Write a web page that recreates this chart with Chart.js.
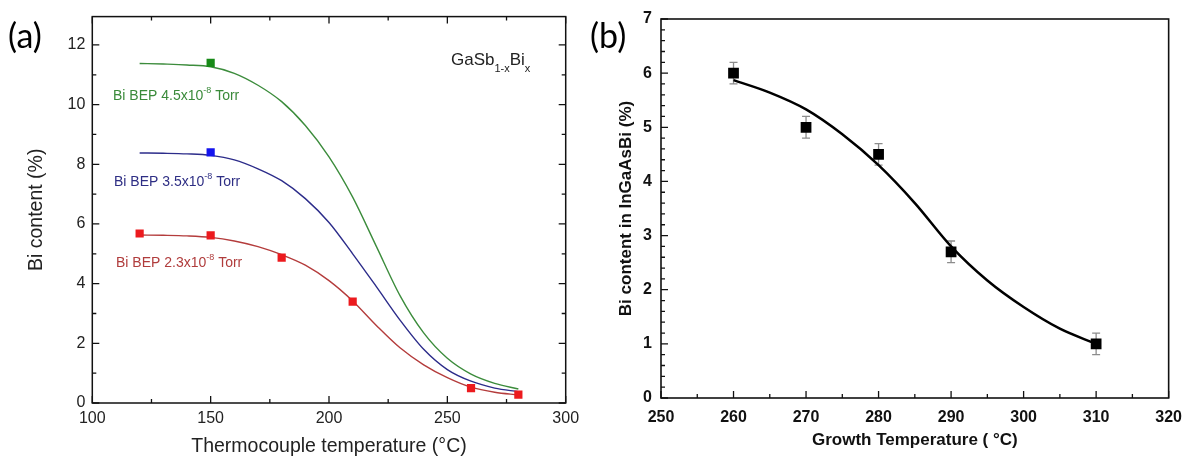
<!DOCTYPE html>
<html><head><meta charset="utf-8">
<script src="https://cdn.jsdelivr.net/npm/chart.js@4.4.1/dist/chart.umd.min.js"></script>
<style>
html,body{margin:0;padding:0;background:#fff;width:1192px;height:459px;overflow:hidden}
#ca{position:absolute;left:0;top:0}
#cb{position:absolute;left:580px;top:0}
</style></head><body>
<canvas id="ca" width="596" height="459"></canvas>
<canvas id="cb" width="612" height="459"></canvas>
<script>
// ---------- Panel (a) data ----------
const aXTickStep = 50;
const aYTickStep = 2;
const aMarkGreenT = [150];
const aMarkGreen  = [11.4];
const aMarkBlueT  = [150];
const aMarkBlue   = [8.4];
const aMarkRedT   = [120, 150, 180, 210, 260, 280];
const aMarkRed    = [5.68, 5.62, 4.87, 3.40, 0.50, 0.28];
const aFitT       = [120, 130, 140, 150, 160, 170, 180, 190, 200, 210, 220, 230, 240, 250, 260, 270, 280];
const aFitGreen   = [11.38, 11.36, 11.33, 11.27, 11.05, 10.65, 10.1, 9.3, 8.25, 6.9, 5.25, 3.6, 2.35, 1.5, 0.97, 0.66, 0.47];
const aFitBlue    = [8.38, 8.37, 8.35, 8.3, 8.15, 7.85, 7.45, 6.85, 6.05, 5.0, 3.9, 2.78, 1.8, 1.12, 0.73, 0.5, 0.38];
const aFitRed     = [5.63, 5.62, 5.6, 5.55, 5.43, 5.24, 4.97, 4.62, 4.1, 3.42, 2.6, 1.85, 1.28, 0.85, 0.53, 0.36, 0.27];
const aLabels     = ['Bi BEP 4.5x10', 'Bi BEP 3.5x10', 'Bi BEP 2.3x10'];

// ---------- Panel (b) data ----------
const bT    = [260, 270, 280, 290, 310];
const bVal  = [6.0, 5.0, 4.5, 2.7, 1.0];
const bErr  = [0.2, 0.2, 0.2, 0.2, 0.2];
const bFitT = [260, 265, 270, 275, 280, 285, 290, 295, 300, 305, 310];
const bFit  = [5.87, 5.64, 5.33, 4.87, 4.3, 3.6, 2.8, 2.17, 1.68, 1.28, 1.0];

const pts = (xs, ys) => xs.map((x, i) => ({x, y: ys[i]}));
const FONT = 'Liberation Sans';

function frameTicks(cfg) {
  return {
    id: 'frameTicks',
    afterDatasetsDraw(chart) {
      const {ctx, chartArea: a, scales: {x, y}} = chart;
      ctx.save();
      ctx.strokeStyle = cfg.color;
      ctx.lineWidth = cfg.tickLw;
      ctx.beginPath();
      const isMaj = (v, base, step) => Math.abs((v - base) / step - Math.round((v - base) / step)) < 1e-6;
      for (let k = 0; ; k++) {
        const v = x.min + k * cfg.xMinor;
        if (v > x.max + 1e-9) break;
        const px = x.getPixelForValue(v);
        const len = isMaj(v, x.min, cfg.xMajor) ? cfg.major : cfg.minor;
        if (cfg.sides.includes('bottom')) { ctx.moveTo(px, a.bottom); ctx.lineTo(px, a.bottom - len); }
        if (cfg.sides.includes('top')) { ctx.moveTo(px, a.top); ctx.lineTo(px, a.top + len); }
      }
      for (let k = 0; ; k++) {
        const v = y.min + k * cfg.yMinor;
        if (v > y.max + 1e-9) break;
        const py = y.getPixelForValue(v);
        const len = isMaj(v, 0, cfg.yMajor) ? cfg.major : cfg.minor;
        if (cfg.sides.includes('left')) { ctx.moveTo(a.left, py); ctx.lineTo(a.left + len, py); }
        if (cfg.sides.includes('right')) { ctx.moveTo(a.right, py); ctx.lineTo(a.right - len, py); }
      }
      ctx.stroke();
      ctx.lineWidth = cfg.lw;
      ctx.strokeRect(a.left, a.top, a.right - a.left, a.bottom - a.top);
      ctx.restore();
    }
  };
}

function rich(ctx, x, y, segs, color) {
  ctx.fillStyle = color;
  ctx.textBaseline = 'alphabetic';
  ctx.textAlign = 'left';
  for (const s of segs) {
    ctx.font = (s.bold ? 'bold ' : '') + s.size + 'px "' + (s.family || FONT) + '"';
    ctx.fillText(s.t, x, y + (s.dy || 0));
    x += ctx.measureText(s.t).width;
  }
}

const annotA = {
  id: 'annotA',
  afterDraw(chart) {
    const ctx = chart.ctx;
    ctx.save();
    rich(ctx, 8, 48, [{t: '(a)', size: 34, family: 'Lato'}], '#000');
    rich(ctx, 451, 65, [
      {t: 'GaSb', size: 17}, {t: '1-x', size: 11, dy: 7}, {t: 'Bi', size: 17}, {t: 'x', size: 11, dy: 7}
    ], '#222');
    rich(ctx, 113, 100, [{t: aLabels[0], size: 14}, {t: '-8', size: 9, dy: -7}, {t: ' Torr', size: 14}], '#3a8a3a');
    rich(ctx, 114, 186, [{t: aLabels[1], size: 14}, {t: '-8', size: 9, dy: -7}, {t: ' Torr', size: 14}], '#2e2e84');
    rich(ctx, 116, 267, [{t: aLabels[2], size: 14}, {t: '-8', size: 9, dy: -7}, {t: ' Torr', size: 14}], '#b03c3c');
    ctx.restore();
  }
};

new Chart(document.getElementById('ca'), {
  type: 'scatter',
  data: {
    datasets: [
      {type: 'scatter', data: pts(aMarkGreenT, aMarkGreen), pointStyle: 'rect', pointRadius: 5.8, backgroundColor: '#178a17', borderWidth: 0, order: 0},
      {type: 'scatter', data: pts(aMarkBlueT, aMarkBlue), pointStyle: 'rect', pointRadius: 5.8, backgroundColor: '#1414ee', borderWidth: 0, order: 0},
      {type: 'scatter', data: pts(aMarkRedT, aMarkRed), pointStyle: 'rect', pointRadius: 5.8, backgroundColor: '#ec1a1e', borderWidth: 0, order: 0},
      {type: 'line', data: pts(aFitT, aFitGreen), borderColor: '#3c8c3c', borderWidth: 1.4, pointRadius: 0, cubicInterpolationMode: 'monotone', fill: false, order: 5},
      {type: 'line', data: pts(aFitT, aFitBlue), borderColor: '#2c2c8a', borderWidth: 1.4, pointRadius: 0, cubicInterpolationMode: 'monotone', fill: false, order: 5},
      {type: 'line', data: pts(aFitT, aFitRed), borderColor: '#b43c3c', borderWidth: 1.4, pointRadius: 0, cubicInterpolationMode: 'monotone', fill: false, order: 5}
    ]
  },
  options: {
    responsive: false, animation: false, devicePixelRatio: 1,
    layout: {padding: {left: 0, right: 30.3, top: 14, bottom: 0}},
    plugins: {legend: {display: false}, tooltip: {enabled: false}},
    scales: {
      x: {
        type: 'linear', min: 100, max: 300,
        grid: {display: false, drawTicks: false}, border: {display: false},
        ticks: {stepSize: aXTickStep, includeBounds: false, padding: 6, color: '#222', font: {family: FONT, size: 16}, maxRotation: 0},
        title: {display: true, text: 'Thermocouple temperature (°C)', color: '#222', font: {family: FONT, size: 19.5}, padding: {top: 0, bottom: 1}},
        afterFit(s) { s.height = 56; }
      },
      y: {
        type: 'linear', min: 0, max: 12.95,
        grid: {display: false, drawTicks: false}, border: {display: false},
        ticks: {stepSize: aYTickStep, includeBounds: false, padding: 7, color: '#222', font: {family: FONT, size: 16}},
        title: {display: true, text: 'Bi content (%)', color: '#222', font: {family: FONT, size: 19.5}, padding: {top: 25, bottom: 0}},
        afterFit(s) { s.width = 92.3; }
      }
    }
  },
  plugins: [frameTicks({color: '#111', lw: 1.5, tickLw: 1.3, major: 7, minor: 4, xMinor: 25, xMajor: 50, yMinor: 1, yMajor: 2, sides: ['left', 'right', 'top', 'bottom']}), annotA]
});

const errB = {
  id: 'errB',
  beforeDatasetsDraw(chart) {
    const {ctx, scales: {x, y}} = chart;
    ctx.save();
    ctx.strokeStyle = '#8c8c8c';
    ctx.lineWidth = 1.3;
    ctx.beginPath();
    bT.forEach((t, i) => {
      const px = x.getPixelForValue(t);
      const y1 = y.getPixelForValue(bVal[i] + bErr[i]);
      const y2 = y.getPixelForValue(bVal[i] - bErr[i]);
      ctx.moveTo(px, y1); ctx.lineTo(px, y2);
      ctx.moveTo(px - 4, y1); ctx.lineTo(px + 4, y1);
      ctx.moveTo(px - 4, y2); ctx.lineTo(px + 4, y2);
    });
    ctx.stroke();
    ctx.restore();
  }
};
const annotB = {
  id: 'annotB',
  afterDraw(chart) {
    const ctx = chart.ctx;
    ctx.save();
    rich(ctx, 10, 48, [{t: '(b)', size: 34, family: 'Lato'}], '#000');
    ctx.restore();
  }
};

new Chart(document.getElementById('cb'), {
  type: 'scatter',
  data: {
    datasets: [
      {type: 'scatter', data: pts(bT, bVal), pointStyle: 'rect', pointRadius: 7.6, backgroundColor: '#000', borderWidth: 0, order: 0},
      {type: 'line', data: pts(bFitT, bFit), borderColor: '#000', borderWidth: 2.5, pointRadius: 0, cubicInterpolationMode: 'monotone', fill: false, order: 5}
    ]
  },
  options: {
    responsive: false, animation: false, devicePixelRatio: 1,
    layout: {padding: {left: 0, right: 15, top: 19, bottom: 0}},
    plugins: {legend: {display: false}, tooltip: {enabled: false}},
    scales: {
      x: {
        type: 'linear', min: 250, max: 320,
        grid: {display: false, drawTicks: false}, border: {display: false},
        ticks: {stepSize: 10, includeBounds: false, padding: 10, color: '#111', font: {family: FONT, size: 16, weight: 'bold'}, maxRotation: 0},
        title: {display: true, text: 'Growth Temperature ( °C)', color: '#111', font: {family: FONT, size: 17, weight: 'bold'}, padding: {top: 0, bottom: 8.8}},
        afterFit(s) { s.height = 61; }
      },
      y: {
        type: 'linear', min: 0, max: 7,
        grid: {display: false, drawTicks: false}, border: {display: false},
        ticks: {stepSize: 1, includeBounds: false, padding: 9, color: '#111', font: {family: FONT, size: 16, weight: 'bold'}},
        title: {display: true, text: 'Bi content in InGaAsBi (%)', color: '#111', font: {family: FONT, size: 17, weight: 'bold'}, padding: {top: 35.8, bottom: 0}},
        afterFit(s) { s.width = 81; }
      }
    }
  },
  plugins: [frameTicks({color: '#111', lw: 1.6, tickLw: 1.3, major: 7, minor: 4, xMinor: 5, xMajor: 10, yMinor: 0.2, yMajor: 1, sides: ['left', 'bottom']}), errB, annotB]
});
</script>
</body></html>
